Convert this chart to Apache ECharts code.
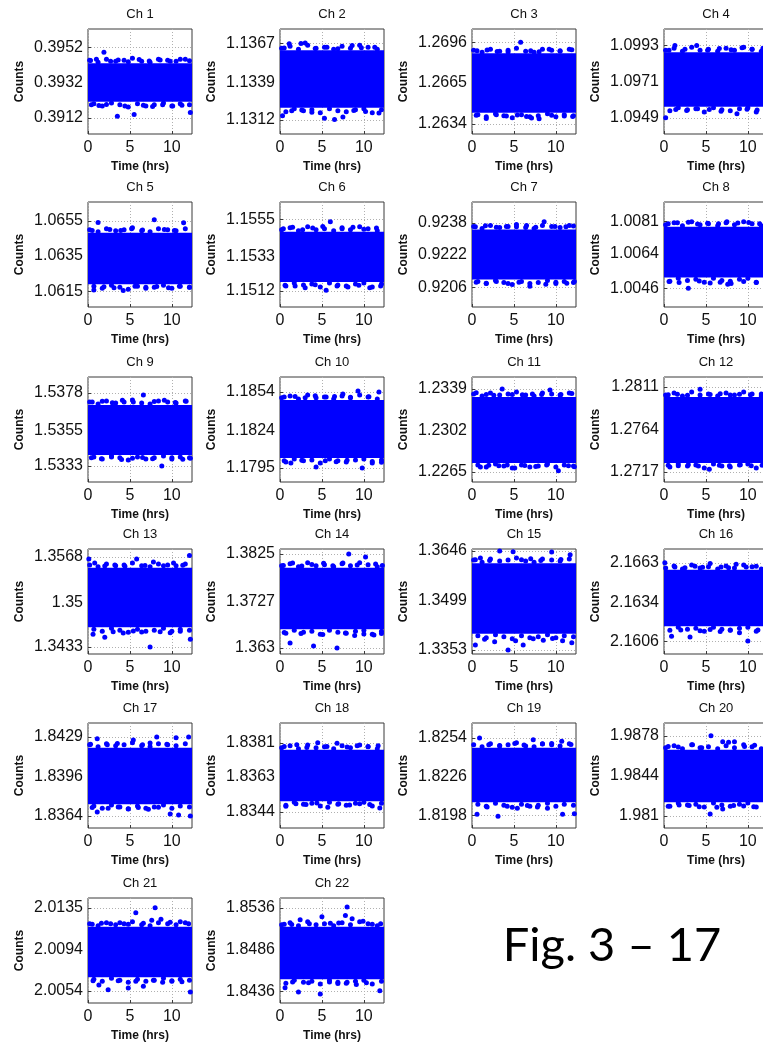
<!DOCTYPE html>
<html>
<head>
<meta charset="utf-8">
<script src="https://cdn.jsdelivr.net/npm/echarts@6/dist/echarts.min.js"></script>
<style>
  html, body { margin: 0; padding: 0; background: #fff; }
  #chart { width: 763px; height: 1047px; }
</style>
</head>
<body>
<div id="chart"></div>
<script>
// time axis (hrs)
const timeRange = [0, 12.4];
const xTickValues = [0, 5, 10];

// y tick labels per channel (top, middle, bottom)
const yTickValues = [
  [0.3952, 0.3932, 0.3912], [1.1367, 1.1339, 1.1312], [1.2696, 1.2665, 1.2634], [1.0993, 1.0971, 1.0949],
  [1.0655, 1.0635, 1.0615], [1.1555, 1.1533, 1.1512], [0.9238, 0.9222, 0.9206], [1.0081, 1.0064, 1.0046],
  [1.5378, 1.5355, 1.5333], [1.1854, 1.1824, 1.1795], [1.2339, 1.2302, 1.2265], [1.2811, 1.2764, 1.2717],
  [1.3568, 1.35, 1.3433], [1.3825, 1.3727, 1.363], [1.3646, 1.3499, 1.3353], [2.1663, 2.1634, 2.1606],
  [1.8429, 1.8396, 1.8364], [1.8381, 1.8363, 1.8344], [1.8254, 1.8226, 1.8198], [1.9878, 1.9844, 1.981],
  [2.0135, 2.0094, 2.0054], [1.8536, 1.8486, 1.8436]
];

// y axis limits per channel
const yMin = [0.39029, 1.13019, 1.26263, 1.09392, 1.06060, 1.15024, 0.91962, 1.00361, 1.53231, 1.17841, 1.22561,
  1.27059, 1.34226, 1.36177, 1.3341, 2.15966, 1.83542, 1.83355, 1.81887, 1.97999, 2.00424, 1.84217];
const yMax = [0.39623, 1.13771, 1.27060, 1.10028, 1.06657, 1.15657, 0.92483, 1.00914, 1.53879, 1.18656, 1.23497,
  1.28221, 1.35799, 1.38353, 1.3652, 2.16731, 1.84404, 1.83916, 1.82648, 1.98889, 2.01446, 1.85479];

// dense band of samples (lower / upper edge) per channel
const coreLow = [0.39211, 1.13207, 1.26424, 1.09557, 1.06189, 1.15174, 0.92099, 1.00517, 1.53398, 1.18028, 1.22730,
  1.27269, 1.34627, 1.36690, 1.34008, 2.16168, 1.83738, 1.83498, 1.82073, 1.98218, 2.00675, 1.84503];
const coreHigh = [0.39429, 1.13619, 1.26876, 1.09887, 1.06482, 1.15478, 0.92346, 1.00784, 1.53706, 1.18478, 1.23319,
  1.28000, 1.35517, 1.37963, 1.36101, 2.16579, 1.84201, 1.83773, 1.82468, 1.98662, 2.01167, 1.85134];

// ragged edge samples just outside the band
const edgeTimesHigh = [0.2, 1.2, 2.2, 3.3, 4.3, 5.3, 6.4, 7.4, 8.4, 9.5, 10.5, 11.6];
const edgeTimesLow = [0.7, 1.7, 2.8, 3.8, 4.8, 5.9, 6.9, 7.9, 9.0, 10.0, 11.0, 12.1];
const edgeHigh = [
  [.39446,.39435,.39452,.39440,.39446,.39458,.39440,.39435,.39452,.39446,.39440,.39452],
  [1.13633,1.13648,1.13626,1.13655,1.13633,1.13641,1.13626,1.13648,1.13633,1.13655,1.13641,1.13626],
  [1.26899,1.26884,1.26907,1.26891,1.26899,1.26914,1.26891,1.26884,1.26907,1.26899,1.26891,1.26907],
  [1.09899,1.09911,1.09893,1.09918,1.09899,1.09905,1.09893,1.09911,1.09899,1.09918,1.09905,1.09893],
  [1.06499,1.06488,1.06505,1.06493,1.06499,1.06510,1.06493,1.06488,1.06505,1.06499,1.06493,1.06505],
  [1.15490,1.15502,1.15484,1.15508,1.15490,1.15496,1.15484,1.15502,1.15490,1.15508,1.15496,1.15484],
  [.92361,.92351,.92366,.92356,.92361,.92371,.92356,.92351,.92366,.92361,.92356,.92366],
  [1.00794,1.00805,1.00789,1.00810,1.00794,1.00800,1.00789,1.00805,1.00794,1.00810,1.00800,1.00789],
  [1.53724,1.53712,1.53731,1.53718,1.53724,1.53737,1.53718,1.53712,1.53731,1.53724,1.53718,1.53731],
  [1.18494,1.18509,1.18486,1.18517,1.18494,1.18501,1.18486,1.18509,1.18494,1.18517,1.18501,1.18486],
  [1.23346,1.23328,1.23355,1.23337,1.23346,1.23364,1.23337,1.23328,1.23355,1.23346,1.23337,1.23355],
  [1.28022,1.28044,1.28011,1.28055,1.28022,1.28033,1.28011,1.28044,1.28022,1.28055,1.28033,1.28011],
  [1.35561,1.35532,1.35576,1.35547,1.35561,1.35591,1.35547,1.35532,1.35576,1.35561,1.35547,1.35576],
  [1.38004,1.38045,1.37984,1.38066,1.38004,1.38025,1.37984,1.38045,1.38004,1.38066,1.38025,1.37984],
  [1.36191,1.36131,1.36221,1.36161,1.36191,1.36251,1.36161,1.36131,1.36221,1.36191,1.36161,1.36221],
  [2.16593,2.16608,2.16586,2.16615,2.16593,2.16601,2.16586,2.16608,2.16593,2.16615,2.16601,2.16586],
  [1.84225,1.84209,1.84234,1.84217,1.84225,1.84242,1.84217,1.84209,1.84234,1.84225,1.84217,1.84234],
  [1.83784,1.83794,1.83778,1.83799,1.83784,1.83789,1.83778,1.83794,1.83784,1.83799,1.83789,1.83778],
  [1.82490,1.82475,1.82497,1.82482,1.82490,1.82504,1.82482,1.82475,1.82497,1.82490,1.82482,1.82497],
  [1.98679,1.98696,1.98670,1.98704,1.98679,1.98687,1.98670,1.98696,1.98679,1.98704,1.98687,1.98670],
  [2.01196,2.01177,2.01206,2.01186,2.01196,2.01215,2.01186,2.01177,2.01206,2.01196,2.01186,2.01206],
  [1.85158,1.85182,1.85146,1.85194,1.85158,1.85170,1.85146,1.85182,1.85158,1.85194,1.85170,1.85146]
];
const edgeLow = [
  [.39200,.39188,.39205,.39194,.39182,.39200,.39188,.39194,.39205,.39188,.39200,.39194],
  [1.13178,1.13200,1.13185,1.13193,1.13171,1.13200,1.13185,1.13178,1.13193,1.13200,1.13171,1.13193],
  [1.26409,1.26393,1.26416,1.26401,1.26386,1.26409,1.26393,1.26401,1.26416,1.26393,1.26409,1.26401],
  [1.09533,1.09551,1.09539,1.09545,1.09526,1.09551,1.09539,1.09533,1.09545,1.09551,1.09526,1.09545],
  [1.06178,1.06166,1.06183,1.06172,1.06161,1.06178,1.06166,1.06172,1.06183,1.06166,1.06178,1.06172],
  [1.15150,1.15168,1.15156,1.15162,1.15144,1.15168,1.15156,1.15150,1.15162,1.15168,1.15144,1.15162],
  [.92089,.92079,.92094,.92084,.92074,.92089,.92079,.92084,.92094,.92079,.92089,.92084],
  [1.00496,1.00512,1.00501,1.00507,1.00491,1.00512,1.00501,1.00496,1.00507,1.00512,1.00491,1.00507],
  [1.53386,1.53373,1.53392,1.53380,1.53367,1.53386,1.53373,1.53380,1.53392,1.53373,1.53386,1.53380],
  [1.17997,1.18020,1.18005,1.18012,1.17989,1.18020,1.18005,1.17997,1.18012,1.18020,1.17989,1.18012],
  [1.22712,1.22694,1.22721,1.22703,1.22685,1.22712,1.22694,1.22703,1.22721,1.22694,1.22712,1.22703],
  [1.27225,1.27258,1.27236,1.27247,1.27214,1.27258,1.27236,1.27225,1.27247,1.27258,1.27214,1.27247],
  [1.34597,1.34568,1.34612,1.34583,1.34553,1.34597,1.34568,1.34583,1.34612,1.34568,1.34597,1.34583],
  [1.36608,1.36669,1.36628,1.36649,1.36587,1.36669,1.36628,1.36608,1.36649,1.36669,1.36587,1.36649],
  [1.33948,1.33888,1.33978,1.33918,1.33858,1.33948,1.33888,1.33918,1.33978,1.33888,1.33948,1.33918],
  [2.16139,2.16161,2.16146,2.16154,2.16132,2.16161,2.16146,2.16139,2.16154,2.16161,2.16132,2.16154],
  [1.83722,1.83705,1.83730,1.83714,1.83697,1.83722,1.83705,1.83714,1.83730,1.83705,1.83722,1.83714],
  [1.83477,1.83493,1.83482,1.83487,1.83472,1.83493,1.83482,1.83477,1.83487,1.83493,1.83472,1.83487],
  [1.82059,1.82044,1.82066,1.82051,1.82037,1.82059,1.82044,1.82051,1.82066,1.82044,1.82059,1.82051],
  [1.98184,1.98210,1.98193,1.98201,1.98176,1.98210,1.98193,1.98184,1.98201,1.98210,1.98176,1.98201],
  [2.00656,2.00636,2.00665,2.00646,2.00627,2.00656,2.00636,2.00646,2.00665,2.00636,2.00656,2.00646],
  [1.84455,1.84491,1.84467,1.84479,1.84444,1.84491,1.84467,1.84455,1.84479,1.84491,1.84444,1.84479]
];

// scattered samples further above the band
const outliersHigh = [
  [[0.3,.39445],[1.0,.39452],[1.9,.39491],[2.7,.39440],[3.6,.39448],[4.8,.39438],[6.1,.39450],[7.3,.39442],[8.6,.39447],[9.8,.39440],[11.0,.39452],[12.1,.39444]],
  [[0.5,1.13635],[1.1,1.13665],[2.5,1.13668],[3.0,1.13670],[4.2,1.13632],[5.6,1.13640],[6.9,1.13630],[8.6,1.13652],[9.7,1.13636],[11.3,1.13640]],
  [[0.6,1.26895],[1.8,1.26900],[3.0,1.26890],[4.3,1.26885],[5.8,1.26960],[7.0,1.26895],[8.0,1.26888],[9.2,1.26906],[10.5,1.26895],[11.9,1.26902]],
  [[0.6,1.09900],[1.3,1.09928],[2.5,1.09905],[3.9,1.09928],[5.2,1.09900],[6.6,1.09910],[8.0,1.09902],[9.3,1.09915],[10.5,1.09905],[11.8,1.09912]],
  [[0.5,1.06495],[1.2,1.06540],[2.6,1.06500],[3.9,1.06495],[5.2,1.06505],[6.5,1.06498],[7.9,1.06556],[9.1,1.06500],[10.3,1.06495],[11.4,1.06539]],
  [[0.4,1.15495],[1.5,1.15505],[2.7,1.15490],[3.9,1.15500],[5.1,1.15510],[6.0,1.15538],[7.4,1.15495],[8.7,1.15505],[10.0,1.15492],[11.5,1.15500]],
  [[0.4,.92360],[1.6,.92365],[2.9,.92358],[4.1,.92362],[5.3,.92360],[6.5,.92366],[7.6,.92358],[8.6,.92385],[9.9,.92362],[11.2,.92360],[12.1,.92364]],
  [[0.5,1.00800],[1.6,1.00805],[2.9,1.00808],[4.0,1.00798],[5.2,1.00802],[6.5,1.00800],[7.5,1.00810],[8.8,1.00803],[10.1,1.00806],[11.4,1.00800]],
  [[0.5,1.53725],[1.7,1.53730],[2.9,1.53720],[4.1,1.53735],[5.4,1.53725],[6.6,1.53768],[7.9,1.53728],[9.1,1.53735],[10.4,1.53722],[11.7,1.53730]],
  [[0.5,1.18500],[1.8,1.18505],[3.0,1.18495],[4.2,1.18510],[5.5,1.18500],[6.5,1.18505],[7.5,1.18524],[8.4,1.18498],[9.3,1.18548],[10.6,1.18502],[11.8,1.18540]],
  [[0.5,1.23357],[1.7,1.23340],[2.6,1.23335],[3.6,1.23390],[4.8,1.23342],[6.0,1.23338],[7.2,1.23345],[8.3,1.23340],[9.3,1.23381],[10.6,1.23342],[11.9,1.23350]],
  [[0.5,1.28025],[1.6,1.28030],[2.8,1.28020],[4.3,1.28085],[5.5,1.28028],[6.7,1.28035],[7.9,1.28022],[9.0,1.28030],[10.3,1.28025],[11.6,1.28032]],
  [[0.1,1.35650],[0.8,1.35591],[2.0,1.35545],[3.2,1.35560],[4.4,1.35540],[5.8,1.35650],[6.8,1.35550],[7.8,1.35606],[9.0,1.35548],[10.2,1.35591],[11.3,1.35555],[12.1,1.35700]],
  [[0.4,1.38010],[1.5,1.38065],[2.6,1.38000],[3.8,1.38030],[5.2,1.38060],[6.3,1.38005],[7.5,1.38065],[8.2,1.38250],[9.2,1.38020],[10.2,1.38188],[11.4,1.38040],[12.2,1.38010]],
  [[0.4,1.36200],[1.0,1.36251],[2.1,1.36180],[3.3,1.36460],[4.9,1.36440],[5.9,1.36200],[7.0,1.36230],[8.2,1.36180],[9.5,1.36430],[10.6,1.36210],[11.7,1.36350]],
  [[0.1,2.16630],[1.3,2.16600],[2.5,2.16595],[3.7,2.16605],[4.6,2.16598],[5.5,2.16625],[6.8,2.16600],[7.7,2.16595],[8.6,2.16620],[9.8,2.16600],[11.0,2.16605]],
  [[0.3,1.84230],[1.1,1.84274],[2.3,1.84225],[3.5,1.84235],[5.4,1.84265],[6.5,1.84225],[7.4,1.84240],[8.2,1.84290],[9.4,1.84230],[10.5,1.84282],[12.0,1.84290]],
  [[0.5,1.83790],[2.0,1.83800],[3.2,1.83785],[4.5,1.83810],[5.6,1.83790],[6.8,1.83808],[8.0,1.83788],[9.2,1.83795],[10.5,1.83790],[11.7,1.83795]],
  [[0.9,1.82540],[2.0,1.82490],[3.3,1.82485],[5.1,1.82500],[6.2,1.82488],[7.3,1.82526],[8.4,1.82495],[9.5,1.82500],[10.7,1.82515],[11.8,1.82492]],
  [[0.5,1.98690],[1.7,1.98685],[3.4,1.98704],[4.5,1.98680],[5.6,1.98780],[7.0,1.98730],[7.7,1.98725],[8.4,1.98730],[9.6,1.98690],[10.8,1.98700]],
  [[0.5,2.01190],[1.6,2.01200],[2.7,2.01195],[3.8,2.01205],[4.8,2.01190],[5.7,2.01302],[6.6,2.01200],[7.6,2.01230],[8.0,2.01350],[8.7,2.01240],[9.8,2.01210],[11.0,2.01215],[12.0,2.01195]],
  [[0.5,1.85165],[1.4,1.85160],[2.4,1.85217],[3.5,1.85170],[5.0,1.85253],[6.0,1.85175],[7.0,1.85180],[7.8,1.85270],[8.0,1.85372],[8.6,1.85230],[9.9,1.85200],[11.0,1.85165],[12.0,1.85170]]
];

// scattered samples further below the band
const outliersLow = [
  [[0.4,.39195],[1.3,.39190],[2.2,.39196],[3.5,.39130],[4.4,.39188],[5.5,.39140],[6.6,.39192],[7.7,.39185],[8.9,.39195],[10.1,.39188],[11.2,.39192],[12.2,.39150]],
  [[0.3,1.13150],[1.4,1.13185],[2.6,1.13190],[3.8,1.13175],[5.3,1.13132],[6.5,1.13122],[7.5,1.13140],[8.8,1.13188],[10.2,1.13180],[11.8,1.13170]],
  [[0.5,1.26405],[1.7,1.26380],[2.9,1.26410],[4.1,1.26400],[5.4,1.26408],[6.5,1.26395],[7.1,1.26385],[8.0,1.26378],[9.5,1.26405],[11.0,1.26400],[12.0,1.26395]],
  [[0.2,1.09490],[1.4,1.09540],[2.7,1.09535],[4.0,1.09545],[5.4,1.09540],[6.8,1.09530],[8.7,1.09514],[9.9,1.09542],[11.1,1.09538],[12.2,1.09545]],
  [[0.7,1.06157],[1.9,1.06175],[3.1,1.06170],[4.2,1.06154],[5.6,1.06178],[6.9,1.06172],[8.2,1.06176],[9.6,1.06170],[10.9,1.06178],[12.1,1.06172]],
  [[0.6,1.15155],[1.8,1.15150],[3.0,1.15140],[4.2,1.15158],[5.5,1.15125],[6.8,1.15150],[8.1,1.15145],[9.4,1.15155],[10.7,1.15140],[12.0,1.15150]],
  [[0.5,.92085],[1.7,.92080],[2.9,.92088],[4.3,.92078],[5.6,.92085],[6.9,.92065],[8.8,.92075],[10.0,.92085],[11.3,.92080],[12.2,.92088]],
  [[0.6,1.00495],[1.8,1.00490],[2.9,1.00460],[4.2,1.00498],[5.5,1.00488],[6.7,1.00492],[7.6,1.00481],[8.0,1.00485],[9.5,1.00495],[11.0,1.00490],[12.1,1.00495]],
  [[0.4,1.53380],[1.6,1.53375],[2.8,1.53385],[4.0,1.53370],[5.3,1.53378],[6.5,1.53382],[7.7,1.53375],[8.8,1.53330],[10.0,1.53380],[11.3,1.53372],[12.2,1.53378]],
  [[0.5,1.18005],[1.3,1.17989],[2.6,1.18010],[4.3,1.17958],[5.4,1.18005],[6.7,1.17998],[8.0,1.18010],[9.8,1.17950],[11.0,1.18000],[12.1,1.17995]],
  [[1.0,1.22695],[2.0,1.22710],[3.2,1.22705],[4.2,1.22712],[5.1,1.22686],[6.3,1.22708],[7.6,1.22700],[8.9,1.22712],[10.3,1.22662],[11.5,1.22705],[12.2,1.22698]],
  [[0.5,1.27245],[1.7,1.27240],[2.9,1.27250],[4.1,1.27235],[5.4,1.27200],[6.6,1.27245],[7.8,1.27240],[9.1,1.27250],[10.4,1.27238],[11.7,1.27245]],
  [[0.6,1.34522],[2.0,1.34478],[3.0,1.34560],[4.2,1.34540],[5.4,1.34570],[6.4,1.34555],[7.4,1.34330],[8.6,1.34560],[9.8,1.34545],[11.0,1.34565],[12.2,1.34448]],
  [[0.5,1.36620],[1.2,1.36403],[2.5,1.36600],[4.0,1.36341],[5.1,1.36580],[6.8,1.36300],[7.8,1.36610],[8.9,1.36560],[10.0,1.36590],[11.2,1.36570],[12.1,1.36600]],
  [[0.4,1.33680],[1.5,1.33850],[2.7,1.33770],[4.3,1.33530],[5.2,1.33800],[6.1,1.33680],[7.3,1.33860],[8.5,1.33820],[9.6,1.33870],[10.8,1.33800],[11.9,1.33740]],
  [[0.9,2.16096],[2.0,2.16140],[3.1,2.16089],[4.3,2.16135],[5.5,2.16145],[6.7,2.16130],[7.9,2.16140],[9.0,2.16120],[10.0,2.16060],[11.2,2.16140]],
  [[0.5,1.83710],[1.1,1.83673],[2.4,1.83705],[3.6,1.83715],[4.8,1.83700],[6.0,1.83710],[7.2,1.83695],[8.4,1.83712],[9.8,1.83656],[10.8,1.83648],[12.2,1.83640]],
  [[0.7,1.83471],[1.9,1.83485],[3.1,1.83480],[4.4,1.83488],[5.7,1.83466],[7.0,1.83485],[8.3,1.83478],[9.5,1.83485],[10.7,1.83480],[11.9,1.83462]],
  [[0.6,1.81987],[1.8,1.82040],[3.1,1.81973],[4.2,1.82045],[5.4,1.82030],[6.6,1.82050],[7.8,1.82040],[9.0,1.82030],[10.8,1.81987],[12.2,1.81990]],
  [[0.5,1.98184],[1.8,1.98195],[3.0,1.98190],[4.2,1.98180],[5.5,1.98117],[6.3,1.98175],[7.0,1.98160],[8.3,1.98190],[9.5,1.98185],[10.7,1.98180]],
  [[0.6,2.00640],[1.3,2.00598],[2.4,2.00553],[3.6,2.00640],[4.8,2.00570],[5.7,2.00635],[6.6,2.00588],[7.8,2.00645],[8.9,2.00625],[10.0,2.00640],[11.2,2.00630],[12.2,2.00530]],
  [[0.6,1.84400],[1.5,1.84470],[2.2,1.84350],[3.4,1.84460],[4.8,1.84325],[5.9,1.84470],[6.9,1.84450],[8.0,1.84465],[9.1,1.84440],[10.3,1.84460],[11.9,1.84365]]
];

const chart = echarts.init(document.getElementById('chart'));

// panel layout (4 columns, last column cut by the page edge)
const colLeft = [88, 280, 472, 664];
const rowTop = [29, 202, 377, 549, 723, 898];
const plotW = 104;
const plotH = 105;
const font = 'Liberation Sans';
const blue = '#0000ff';
const grid = [], xAxis = [], yAxis = [], series = [], graphic = [];

yTickValues.forEach(function (ticks, i) {
  const row = Math.floor(i / 4);
  const col = i % 4;
  grid.push({
    left: colLeft[col], top: rowTop[row], width: plotW, height: plotH,
    show: true, borderColor: '#3a3a3a', borderWidth: 1, backgroundColor: '#fff',
    containLabel: false, outerBoundsMode: 'none'
  });
  xAxis.push({
    gridIndex: i, type: 'value', min: timeRange[0], max: timeRange[1],
    axisLine: { show: false },
    axisTick: { show: true, inside: true, length: 3, customValues: xTickValues, lineStyle: { color: '#3a3a3a' } },
    axisLabel: { customValues: xTickValues, fontSize: 16, color: '#111', margin: 6, fontFamily: font },
    splitLine: { show: true, lineStyle: { color: '#b0b0b0', type: [1, 2], width: 1 } },
    name: 'Time (hrs)', nameLocation: 'middle', nameGap: 27,
    nameTextStyle: { fontSize: 12, fontWeight: 'bold', color: '#111', fontFamily: font }
  });
  yAxis.push({
    gridIndex: i, type: 'value', min: yMin[i], max: yMax[i],
    axisLine: { show: false },
    axisTick: { show: true, inside: true, length: 3, customValues: ticks, lineStyle: { color: '#3a3a3a' } },
    axisLabel: {
      customValues: ticks, fontSize: 16, color: '#111', margin: 5, fontFamily: font,
      formatter: function (v) { return String(Number(v.toFixed(4))); }
    },
    splitLine: { show: true, lineStyle: { color: '#b0b0b0', type: [1, 2], width: 1 } },
    name: 'Counts', nameLocation: 'middle', nameRotate: 90, nameGap: 62,
    nameTextStyle: { fontSize: 12, fontWeight: 'bold', color: '#111', fontFamily: font }
  });

  const points = outliersHigh[i].concat(outliersLow[i]);
  edgeHigh[i].forEach(function (v, k) { points.push([edgeTimesHigh[k], v]); });
  edgeLow[i].forEach(function (v, k) { points.push([edgeTimesLow[k], v]); });

  series.push({
    type: 'scatter', xAxisIndex: i, yAxisIndex: i,
    symbolSize: 5, itemStyle: { color: blue, opacity: 1 },
    data: points,
    markArea: {
      silent: true,
      itemStyle: { color: blue, opacity: 1, borderWidth: 0 },
      label: { show: false },
      data: [[{ coord: [timeRange[0], coreLow[i]] }, { coord: [timeRange[1], coreHigh[i]] }]]
    }
  });
  graphic.push({
    type: 'text', x: colLeft[col] + plotW / 2, y: rowTop[row] - 15,
    style: { text: 'Ch ' + (i + 1), font: '13px "Liberation Sans"', fill: '#111', textAlign: 'center', textVerticalAlign: 'middle' }
  });
});

graphic.push({
  type: 'text', x: 612, y: 946,
  style: { text: 'Fig. 3 – 17', font: '47px Lato', fill: '#000', textAlign: 'center', textVerticalAlign: 'middle' }
});

chart.setOption({
  animation: false,
  backgroundColor: '#fff',
  grid: grid,
  xAxis: xAxis,
  yAxis: yAxis,
  series: series,
  graphic: graphic
});
</script>
</body>
</html>
